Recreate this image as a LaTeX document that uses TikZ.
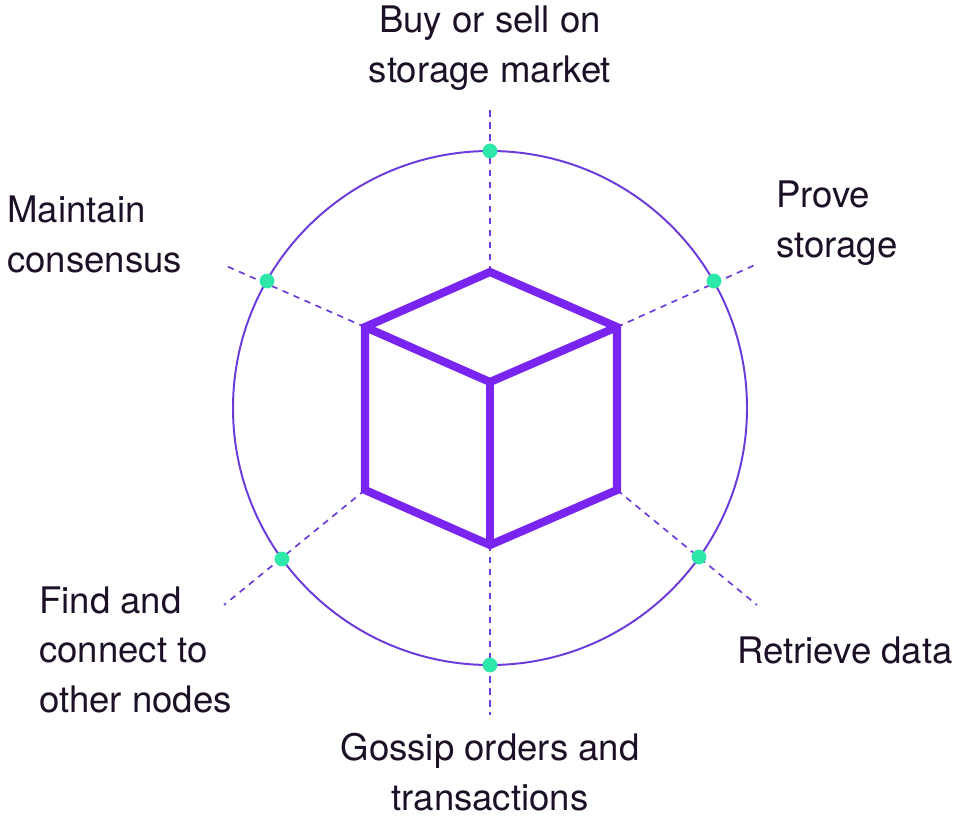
\documentclass[tikz,border=0pt]{standalone}
\usepackage{fontspec}
\setmainfont{TeX Gyre Heros}
\usepackage{tikz}

\definecolor{cubepurple}{HTML}{7A24F0}
\definecolor{ringpurple}{HTML}{6C3BDC}
\definecolor{dotgreen}{HTML}{2EE8A9}
\definecolor{inkdark}{HTML}{1B1026}

\begin{document}
\begin{tikzpicture}[x=0.025cm,y=-0.025cm,
        label/.style={inner sep=0pt,text=inkdark,
            font=\fontsize{26}{35}\selectfont},
        spoke/.style={draw=ringpurple,line width=1.2pt,dash pattern=on 4.5pt off 4pt},
        dot/.style={circle,fill=dotgreen,inner sep=0pt,minimum size=0.37cm}]
            \useasboundingbox (0,0) rectangle (961,817);
            % cube corners
            \coordinate (top) at (490,272);
            \coordinate (ur) at (617,327);
            \coordinate (lr) at (617,490);
            \coordinate (bot) at (490,545);
            \coordinate (ll) at (365,490);
            \coordinate (ul) at (365,327);
            \coordinate (mid) at (490,382);
            % free ends of the spokes
            \coordinate (etop) at (490,107);
            \coordinate (ebot) at (490,715);
            \coordinate (eul) at (224,265);
            \coordinate (eur) at (757,264);
            \coordinate (elr) at (757,605);
            \coordinate (ell) at (224,605);
            \draw[spoke] (top) -- (etop);
            \draw[spoke] (bot) -- (ebot);
            \draw[spoke] (ul) -- (eul);
            \draw[spoke] (ur) -- (eur);
            \draw[spoke] (lr) -- (elr);
            \draw[spoke] (ll) -- (ell);
            \draw[ringpurple,line width=1.4pt] (490,408) circle [radius=257];
            \draw[cubepurple,line width=5.8pt,line join=miter]
                (top) -- (ur) -- (lr) -- (bot) -- (ll) -- (ul) -- cycle;
            \draw[cubepurple,line width=5.8pt] (ul) -- (mid) -- (ur);
            \draw[cubepurple,line width=5.8pt] (mid) -- (bot);
            \node[dot] (dtop) at (490,151) {};
            \node[dot] (dbot) at (490,665) {};
            \node[dot] (dul) at (267,281) {};
            \node[dot] (dur) at (714,281) {};
            \node[dot] (dlr) at (699,557) {};
            \node[dot] (dll) at (282,559) {};
            % labels, anchored on the baseline of their last line
            \node[label,align=center,anchor=base] (buy)
                at (490,82) {Buy or sell on\\storage market};
            \node[label,align=left,anchor=base west] (maintain)
                at (7,272) {Maintain\\consensus};
            \node[label,align=left,anchor=base west] (prove)
                at (776,257) {Prove\\storage};
            \node[label,align=left,anchor=base west] (find)
                at (39,712) {Find and\\connect to\\other nodes};
            \node[label,anchor=base west] (retrieve)
                at (737,663) {Retrieve data};
            \node[label,align=center,anchor=base] (gossip)
                at (490,810) {Gossip orders and\\transactions};
        \end{tikzpicture}
\end{document}
